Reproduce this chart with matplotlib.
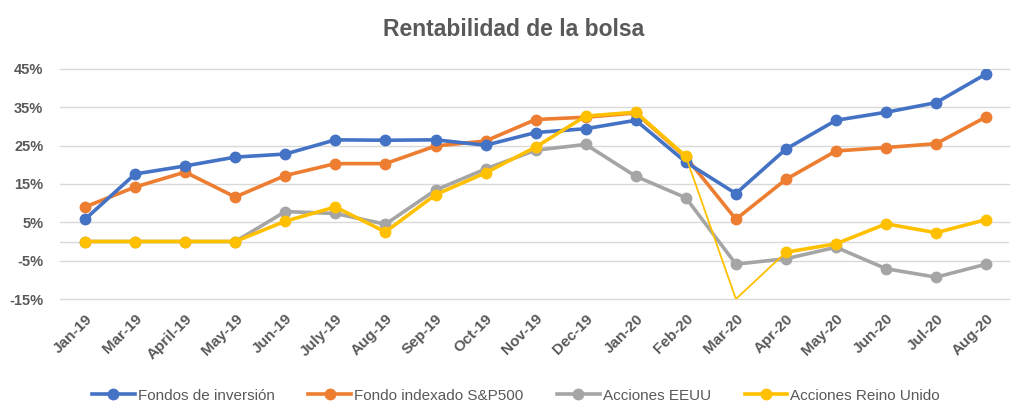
import numpy as np
import matplotlib.pyplot as plt

# Monthly data (returns in %)
months = ["Jan-19", "Mar-19", "April-19", "May-19", "Jun-19", "July-19", "Aug-19",
          "Sep-19", "Oct-19", "Nov-19", "Dec-19", "Jan-20", "Feb-20", "Mar-20",
          "Apr-20", "May-20", "Jun-20", "Jul-20", "Aug-20"]

fondos = [5.8, 17.6, 19.7, 22.0, 22.8, 26.5, 26.4, 26.5, 25.1, 28.4, 29.4, 31.6,
          20.7, 12.5, 24.1, 31.6, 33.7, 36.2, 43.7]
sp500 = [9.0, 14.2, 18.1, 11.6, 17.2, 20.3, 20.3, 24.9, 26.2, 31.8, 32.4, 33.5,
         22.0, 5.8, 16.2, 23.6, 24.5, 25.5, 32.5]
eeuu = [0.0, 0.0, 0.0, 0.0, 7.8, 7.3, 4.5, 13.4, 18.9, 23.8, 25.3, 17.0,
        11.4, -5.9, -4.5, -1.5, -7.1, -9.3, -5.9]
reino = [0.0, 0.0, 0.0, 0.0, 5.3, 9.0, 2.5, 12.2, 17.9, 24.6, 32.7, 33.7,
         22.2, -15.0, -2.8, -0.6, 4.6, 2.3, 5.7]

plt.rcParams['font.family'] = ['Liberation Sans', 'DejaVu Sans']
grey_txt = '#595959'

fig = plt.figure(figsize=(10.24, 4.2), dpi=100)
ax = fig.add_axes([0.0586, 0.288, 0.927, 0.548])

x = np.arange(len(months))

ax.plot(x, fondos, color='#4472C4', lw=2.6, marker='o', ms=7.5,
        label='Fondos de inversión', zorder=6)
ax.plot(x, sp500, color='#ED7D31', lw=2.6, marker='o', ms=7.5,
        label='Fondo indexado S&P500', zorder=5)
ax.plot(x, eeuu, color='#A5A5A5', lw=2.6, marker='o', ms=7.5,
        label='Acciones EEUU', zorder=4)

# UK series: the point below the axis minimum is drawn thin, without marker
reino_arr = np.array(reino)
low = reino_arr <= -15
ax.plot(x, reino_arr, color='#FFC000', lw=1.3, zorder=7)
thick = reino_arr.copy()
thick[low] = np.nan
ax.plot(x, thick, color='#FFC000', lw=2.6, zorder=7)
ax.plot(x[~low], reino_arr[~low], color='#FFC000', lw=2.6, marker='o', ms=7.5,
        ls='none', zorder=7)
ax.plot([], [], color='#FFC000', lw=2.6, marker='o', ms=7.5,
        label='Acciones Reino Unido')

ax.set_xlim(-0.5, len(months) - 0.54)
ax.set_ylim(-15, 45)
ax.set_yticks(np.arange(-15, 46, 10))
ax.set_yticklabels([f'{v}%' for v in range(-15, 46, 10)])
ax.axhline(0, color='#d9d9d9', lw=1, zorder=1)
ax.grid(axis='y', color='#d9d9d9', lw=1, zorder=0)
for gl in ax.get_ygridlines():
    gl.set_clip_on(False)
ax.set_axisbelow(True)

ax.set_xticks(x)
ax.set_xticklabels(months, rotation=45, ha='right', rotation_mode='anchor')
ax.tick_params(axis='both', length=0, colors=grey_txt)
ax.tick_params(axis='x', pad=9, labelsize=11)
ax.tick_params(axis='y', pad=12, labelsize=10.5)
for lab in ax.get_xticklabels() + ax.get_yticklabels():
    lab.set_fontweight('bold')

for s in ax.spines.values():
    s.set_visible(False)

fig.text(0.502, 0.929, 'Rentabilidad de la bolsa', ha='center', va='center',
         fontsize=16.5, fontweight='bold', color=grey_txt)

fig.legend(loc='center', bbox_to_anchor=(0.504, 0.058), ncol=4, frameon=False,
           fontsize=11, labelcolor=grey_txt, handlelength=2.8,
           handletextpad=0.2, columnspacing=2.2)

fig.savefig('out.png', dpi=100)
